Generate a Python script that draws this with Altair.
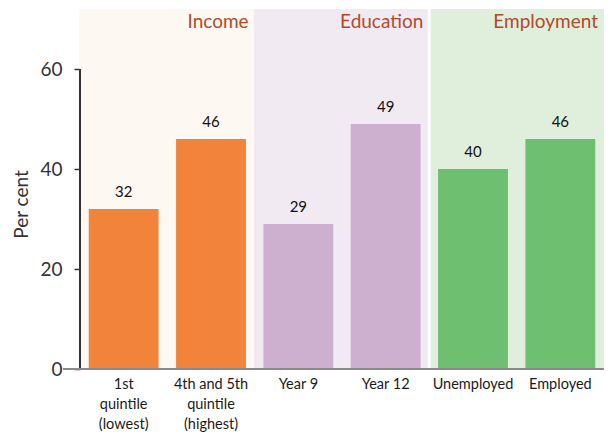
import altair as alt
import pandas as pd

# ---- data ----
categories = ["1st|quintile|(lowest)", "4th and 5th|quintile|(highest)", "Year 9", "Year 12", "Unemployed", "Employed"]
groups = ["Income", "Income", "Education", "Education", "Employment", "Employment"]
values = [32, 46, 29, 49, 40, 46]
group_names = ["Income", "Education", "Employment"]
group_title_at = ["4th and 5th|quintile|(highest)", "Year 12", "Employed"]
gap_before = ["Unemployed"]
bar_colors = ["#F1843A", "#CDB0CF", "#6EC070"]
panel_colors = ["#FDF8F2", "#F2EAF3", "#E0EEDC"]
y_ticks = [0, 20, 40, 60]
y_max = 72

W, H = 524, 360
FONT = "Lato"
step = W / 6.0

bar_col = dict(zip(group_names, bar_colors))
pan_col = dict(zip(group_names, panel_colors))
df = pd.DataFrame({
    "cat": categories,
    "group": groups,
    "value": values,
    "bar_color": [bar_col[g] for g in groups],
    "panel_color": [pan_col[g] for g in groups],
})
titles = pd.DataFrame({"cat": group_title_at, "group": group_names})
gaps = pd.DataFrame({"cat": gap_before})

x_enc = alt.X(
    "cat:N", sort=categories,
    scale=alt.Scale(paddingInner=0.2, paddingOuter=0.1),
    axis=alt.Axis(title=None, labelExpr="split(datum.label, '|')", labelAngle=0,
                  domain=False, ticks=False, labelFontSize=14.5, labelLineHeight=20,
                  labelPadding=8, labelColor="#1a1a1a", labelFont=FONT),
)
y_enc = alt.Y(
    "value:Q",
    scale=alt.Scale(domain=[0, y_max], nice=False),
    axis=alt.Axis(values=y_ticks, title="Per cent", domain=False, grid=False,
                  tickSize=6, tickColor="#333", tickWidth=1.5, labelFontSize=19,
                  labelPadding=12, labelColor="#333", titleFontSize=19,
                  titleColor="#333", titleFontWeight="normal",
                  titleX=-53, titleY=195, titleAngle=270, titleBaseline="alphabetic",
                  titleAlign="center",
                  labelFont=FONT, titleFont=FONT),
)

base = alt.Chart(df)

panels = base.mark_bar(width={"band": 1.27}).encode(
    x=x_enc,
    y=alt.value(0),
    y2=alt.value(H),
    color=alt.Color("panel_color:N", scale=None),
)

gap_rule = alt.Chart(gaps).mark_rule(color="white", strokeWidth=3, xOffset=-step * 0.1).encode(
    x=alt.X("cat:N", sort=categories, bandPosition=0),
    y=alt.value(0),
    y2=alt.value(H),
)

bars = base.mark_bar().encode(
    x=x_enc,
    y=y_enc,
    color=alt.Color("bar_color:N", scale=None),
)

labels = base.mark_text(baseline="bottom", dy=-9, fontSize=15, font=FONT, color="#111").encode(
    x=x_enc,
    y=y_enc,
    text=alt.Text("value:Q"),
)

group_titles = alt.Chart(titles).mark_text(
    align="right", baseline="top", dx=step / 2 - 6, fontSize=19, font=FONT, color="#B04A2C"
).encode(
    x=x_enc,
    y=alt.value(4),
    text="group:N",
)

y_line = alt.Chart(df).mark_rule(color="#333", strokeWidth=1.5).encode(
    x=alt.value(0),
    y=alt.datum(y_ticks[0]),
    y2=alt.datum(y_ticks[-1]),
)

x_line = alt.Chart(df).mark_rule(color="#8a8a8a", strokeWidth=2).encode(
    x=alt.value(-17),
    x2=alt.value(W),
    y=alt.datum(0),
)

chart = alt.layer(panels, gap_rule, bars, labels, group_titles, y_line, x_line).properties(
    width=W, height=H,
    autosize=alt.AutoSizeParams(type="none"),
    padding={"left": 72, "top": 1, "right": 0, "bottom": 65},
).configure_view(stroke=None).configure(background="white")

chart.save("out.html", embed_options={"renderer": "svg", "actions": False})
